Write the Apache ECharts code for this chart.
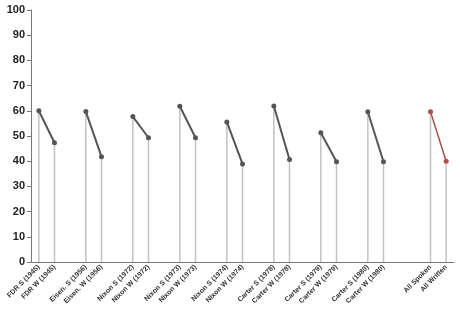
<!DOCTYPE html>
<html><head><meta charset="utf-8">
<script src="https://cdn.jsdelivr.net/npm/echarts@6/dist/echarts.min.js"></script>
<style>html,body{margin:0;padding:0;background:#fff}#c{width:460px;height:313px}</style>
</head><body><div id="c"></div>
<script>
const categories = ["FDR S (1945)","FDR W (1945)","","Eisen. S (1956)","Eisen. W (1956)","","Nixon S (1972)","Nixon W (1972)","","Nixon S (1973)","Nixon W (1973)","","Nixon S (1974)","Nixon W (1974)","","Carter S (1978)","Carter W (1978)","","Carter S (1979)","Carter W (1979)","","Carter S (1980)","Carter W (1980)","","","All Spoken","All Written"];
const speechValues = [60,47.3,null,59.7,41.8,null,57.7,49.3,null,61.8,49.3,null,55.6,38.9,null,61.9,40.7,null,51.3,39.8,null,59.6,39.8,null,null,null,null];
const allValues = [null,null,null,null,null,null,null,null,null,null,null,null,null,null,null,null,null,null,null,null,null,null,null,null,null,59.6,40];
const yTicks = {min:0,max:100,interval:10};

const dropData = speechValues.map((v,i)=> v!=null ? v : allValues[i]);

const chart = echarts.init(document.getElementById('c'));
chart.setOption({
  animation:false,
  grid:{left:31,right:6,top:10,bottom:51,containLabel:false},
  xAxis:{type:'category',data:categories,boundaryGap:true,
    axisLine:{lineStyle:{color:'#777',width:1}},axisTick:{show:false},
    axisLabel:{interval:0,rotate:45,fontSize:7,fontWeight:'bold',color:'#333',margin:4,fontFamily:'Liberation Sans'}},
  yAxis:{type:'value',min:yTicks.min,max:yTicks.max,interval:yTicks.interval,
    axisLine:{show:true,lineStyle:{color:'#777',width:1}},
    axisTick:{show:true,length:4,lineStyle:{color:'#777'}},
    splitLine:{show:false},
    axisLabel:{fontSize:11,fontWeight:'bold',color:'#222',margin:6,fontFamily:'Liberation Sans'}},
  series:[
    {type:'bar',data:dropData,barWidth:1.5,itemStyle:{color:'#c2c2c2'},z:1,silent:true},
    {type:'line',data:speechValues,connectNulls:false,symbol:'circle',symbolSize:5,
      lineStyle:{color:'#555',width:2},itemStyle:{color:'#555'},z:3},
    {type:'line',data:allValues,connectNulls:false,symbol:'circle',symbolSize:5,
      lineStyle:{color:'#a9514b',width:1.5},itemStyle:{color:'#a9514b'},z:3}
  ]
});
</script></body></html>
